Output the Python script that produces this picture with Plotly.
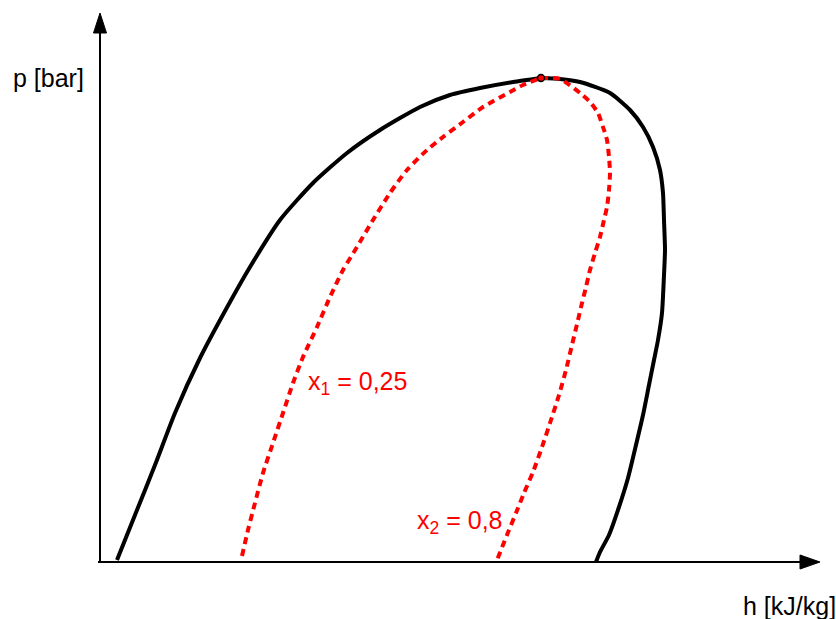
import plotly.graph_objects as go

# Saturation dome (enthalpy h, pressure p) – boiling line up to the critical point
liq_h = [17, 35, 55, 75, 100, 130, 150, 180, 213, 247, 280, 320, 350, 380, 413, 441]
liq_p = [0.2, 4.7, 9.7, 14.9, 20.4, 26.0, 29.5, 34.2, 37.9, 40.9, 43.2, 45.5, 46.7, 47.4, 48.0, 48.4]

# Dew line from the critical point down
vap_h = [441, 460, 480, 510, 530, 543, 553, 560, 563, 564, 565, 564, 562, 558, 554, 549, 543, 536, 528, 519, 509, 500, 496]
vap_p = [48.4, 48.3, 48.0, 46.9, 45.2, 43.5, 41.5, 39.2, 36.9, 34.2, 31.2, 28.7, 24.9, 22.2, 20.2, 17.7, 14.7, 11.7, 8.4, 5.5, 2.7, 1.0, 0.0]

# Lines of constant vapour quality
x1_h = [142, 148, 155, 163, 173, 183, 193, 203, 217, 230, 243, 257, 273, 290, 307, 327, 343, 363, 383, 410, 423, 441]
x1_p = [0.6, 3.2, 5.9, 8.9, 11.9, 14.9, 17.9, 20.5, 23.5, 26.5, 29.2, 31.5, 34.2, 36.9, 39.2, 41.2, 42.5, 44.0, 45.5, 47.0, 47.7, 48.4]

x2_h = [441, 460, 480, 490, 498, 503, 507, 509, 510, 509, 507, 504, 500, 495, 490, 486, 482,
        478, 472, 466, 459, 451, 442, 433, 424, 416, 409, 403, 397]
x2_p = [48.4, 48.3, 46.9, 46.0, 44.9, 43.5, 42.2, 40.5, 38.9, 37.2, 35.5, 34.2, 32.5, 30.9, 29.2, 27.5, 25.9,
        24.2, 21.7, 19.2, 16.7, 14.2, 11.5, 9.0, 6.9, 4.9, 3.2, 1.7, 0.2]

crit_h = [441]
crit_p = [48.4]

x1_label = "x<sub>1</sub> = 0,25"
x2_label = "x<sub>2</sub> = 0,8"
y_title = "p [bar]"
x_title = "h [kJ/kg]"

FONT = "Liberation Sans, Arial, sans-serif"
RED = "#ff0000"

fig = go.Figure()

fig.add_trace(go.Scatter(x=liq_h, y=liq_p, mode="lines",
                         line=dict(color="black", width=4, shape="spline", smoothing=0.6), hoverinfo="skip"))
fig.add_trace(go.Scatter(x=vap_h, y=vap_p, mode="lines",
                         line=dict(color="black", width=4, shape="spline", smoothing=0.6), hoverinfo="skip"))
fig.add_trace(go.Scatter(x=x1_h, y=x1_p, mode="lines",
                         line=dict(color=RED, width=4, dash="7px,5px", shape="spline", smoothing=0.6),
                         hoverinfo="skip"))
fig.add_trace(go.Scatter(x=x2_h, y=x2_p, mode="lines",
                         line=dict(color=RED, width=4, dash="7px,5px", shape="spline", smoothing=0.6),
                         hoverinfo="skip"))
fig.add_trace(go.Scatter(x=crit_h, y=crit_p, mode="markers",
                         marker=dict(color=RED, size=7, line=dict(color="black", width=1.5)),
                         hoverinfo="skip"))

# Axis lines with arrow heads
axis_style = dict(color="black", width=2)
fig.add_shape(type="line", x0=-2, y0=0, x1=702, y1=0, line=axis_style, layer="below")
fig.add_shape(type="path", path="M 700,0.7 L 720,0 L 700,-0.7 Z",
              fillcolor="black", line=dict(color="black", width=1))
fig.add_shape(type="line", x0=0, y0=0, x1=0, y1=53.2, line=axis_style, layer="below")
fig.add_shape(type="path", path="M -6.5,52.9 L 0,54.9 L 6.5,52.9 Z",
              fillcolor="black", line=dict(color="black", width=1))

ann = dict(showarrow=False, xanchor="left", yanchor="middle", borderpad=0)
fig.add_annotation(x=207, y=17.9, text=x1_label, font=dict(family=FONT, size=25, color=RED), **ann)
fig.add_annotation(x=316, y=4.0, text=x2_label, font=dict(family=FONT, size=25, color=RED), **ann)
fig.add_annotation(x=-88, y=48.4, text=y_title, font=dict(family=FONT, size=25, color="black"), **ann)
fig.add_annotation(x=642, y=-4.4, text=x_title, font=dict(family=FONT, size=25, color="black"), **ann)

fig.update_layout(
    width=836, height=619,
    margin=dict(l=0, r=0, t=0, b=0),
    paper_bgcolor="white", plot_bgcolor="white",
    showlegend=False,
    xaxis=dict(range=[-100, 736], visible=False, fixedrange=True),
    yaxis=dict(range=[-5.7, 56.2], visible=False, fixedrange=True),
)

fig.write_html("out.html")
